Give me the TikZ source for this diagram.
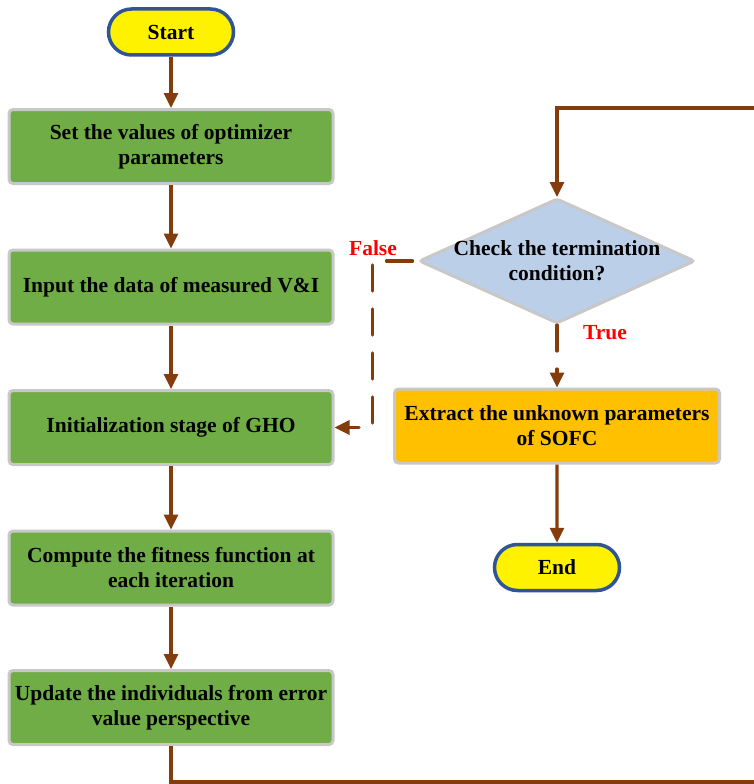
\documentclass[tikz,border=0pt]{standalone}
\usepackage{fontspec}
\setmainfont{Liberation Serif}
\usetikzlibrary{shapes.geometric,shapes.misc,arrows.meta}
\definecolor{flowbrown}{HTML}{843C0C}
\definecolor{stepgreen}{HTML}{70AD47}
\definecolor{edgegray}{HTML}{C8C8C8}
\definecolor{termblue}{HTML}{2F5597}
\definecolor{checkblue}{HTML}{BCCFE9}
\definecolor{resultorange}{HTML}{FFC000}
\definecolor{labelred}{HTML}{FF0000}

\begin{document}
\begin{tikzpicture}[x=1pt,y=-1pt,
  every node/.style={font=\fontsize{21.5}{25}\selectfont\bfseries, text=black},
  terminal/.style={rounded rectangle, draw=termblue, line width=3.5pt, fill=yellow,
    minimum width=125pt, minimum height=46pt, inner sep=0pt},
  stepbox/.style={rectangle, rounded corners=4pt, draw=edgegray, line width=3pt,
    fill=stepgreen, minimum width=324pt, minimum height=74pt, align=center, inner sep=0pt},
  resultbox/.style={stepbox, fill=resultorange},
  decision/.style={diamond, draw=edgegray, line width=3pt, fill=checkblue,
    minimum width=276pt, minimum height=125pt, inner sep=0pt, rounded corners=3pt},
  branchlabel/.style={text=labelred},
  flow/.style={draw=flowbrown, line width=3.2pt, line join=miter,
    -{Triangle[width=14pt,length=15pt]}},
  dashflow/.style={flow, dash pattern=on 26pt off 18pt, line cap=round}
]
% canvas
\fill[white] (0,0) rectangle (754,784);
\useasboundingbox (0,0) rectangle (754,784);

% left column
\node[terminal] (start) at (171,32) {Start};
\node[stepbox] (setpar) at (171,146.5) {Set the values of optimizer\\parameters};
\node[stepbox] (input) at (171,287) {Input the data of measured V\&I};
\node[stepbox] (init) at (171,427.5) {Initialization stage of GHO};
\node[stepbox] (fitness) at (171,568) {Compute the fitness function at\\each iteration};
\node[stepbox] (update) at (171,707.5) {Update the individuals from error\\value perspective};

% right column
\node[decision, label={[align=center, font=\fontsize{21.5}{25}\selectfont\bfseries]center:Check the termination\\condition?}] (check) at (557,261) {};
\node[resultbox, minimum width=325pt] (extract) at (557,426) {Extract the unknown parameters\\of SOFC};
\node[terminal] (finish) at (557,567.5) {End};

% branch labels
\node[branchlabel] (falselbl) at (373,248) {False};
\node[branchlabel] (truelbl) at (605,333) {True};

% main sequence
\draw[flow] (start) -- (setpar);
\draw[flow] (setpar) -- (input);
\draw[flow] (input) -- (init);
\draw[flow] (init) -- (fitness);
\draw[flow] (fitness) -- (update);
\draw[flow] (extract) -- (finish);

% loop back to the termination check, running just past the right edge
\coordinate (loopbottom) at (758,782);
\coordinate (looptop) at (758,108);
\draw[flow] (update.south) |- (loopbottom) -- (looptop) -| (check.north);

% decision branches
\draw[dashflow, dash phase=39pt] (check.west) -- ++(-45,0) |- (init.east);
\draw[dashflow] (check.south) -- (extract.north);
\end{tikzpicture}
\end{document}
